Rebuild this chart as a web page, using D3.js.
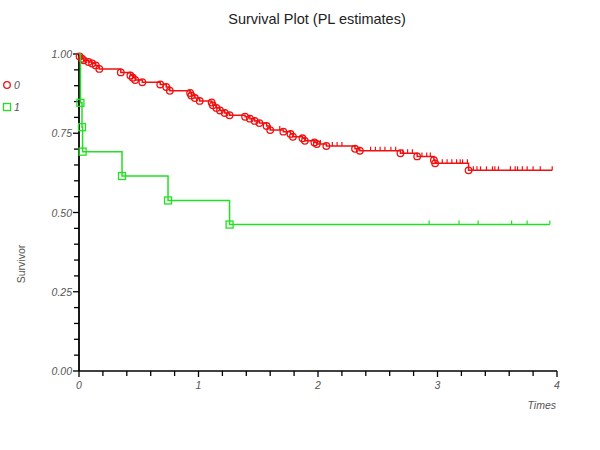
<!DOCTYPE html>
<html>
<head>
<meta charset="utf-8">
<script src="https://cdn.jsdelivr.net/npm/d3@7"></script>
<style>
  html, body { margin: 0; padding: 0; background: #fff; }
  svg { display: block; font-family: "Liberation Sans", Arial, sans-serif; }
</style>
</head>
<body>
<svg id="chart" width="600" height="450"></svg>
<script>
// ---- data ----
const groups = ["0", "1"];
const redEventTimes = [0.005, 0.025, 0.04, 0.08, 0.11, 0.14, 0.17, 0.35, 0.43, 0.45, 0.47, 0.53, 0.68, 0.73, 0.76,
  0.93, 0.94, 0.97, 1.01, 1.11, 1.12, 1.15, 1.18, 1.22, 1.26, 1.39, 1.43, 1.47, 1.51, 1.57, 1.60, 1.71, 1.77,
  1.79, 1.87, 1.89, 1.97, 1.99, 2.07, 2.31, 2.35, 2.69, 2.83, 2.97, 2.98, 3.26];
const redSurvival = [0.992, 0.985, 0.980, 0.975, 0.970, 0.964, 0.953, 0.942, 0.932, 0.925, 0.918, 0.911, 0.904, 0.896, 0.884,
  0.877, 0.869, 0.861, 0.852, 0.847, 0.838, 0.830, 0.822, 0.814, 0.807, 0.802, 0.796, 0.789, 0.782, 0.773, 0.760, 0.755, 0.748,
  0.739, 0.734, 0.726, 0.721, 0.716, 0.710, 0.701, 0.695, 0.687, 0.677, 0.665, 0.655, 0.633];
const redCensorTimes = [1.68, 2.02, 2.12, 2.16, 2.20, 2.44, 2.48, 2.52, 2.56, 2.61, 2.65, 2.71, 2.75, 2.79, 2.87, 2.91, 2.94,
  3.04, 3.08, 3.12, 3.16, 3.19, 3.21, 3.25, 3.30, 3.33, 3.36, 3.41, 3.46, 3.48, 3.51, 3.61, 3.65, 3.67, 3.71, 3.75,
  3.80, 3.86, 3.96];
const greenEventTimes = [0.012, 0.025, 0.03, 0.36, 0.745, 1.26];
const greenSurvival = [0.846, 0.769, 0.692, 0.615, 0.538, 0.462];
const greenCensorTimes = [2.93, 3.18, 3.34, 3.62, 3.75, 3.94];
const xTickValues = [0, 1, 2, 3, 4];
const yTickValues = [0, 0.25, 0.5, 0.75, 1];

// ---- layout ----
const svg = d3.select("#chart");
const x = d3.scaleLinear().domain([0, 4]).range([79, 557]);
const y = d3.scaleLinear().domain([0, 1]).range([371, 54]);
const labelColor = "#555";

// title
svg.append("text").attr("x", 317).attr("y", 24).attr("text-anchor", "middle")
  .attr("font-size", 14.5).attr("fill", "#222").text("Survival Plot (PL estimates)");

// axes
const xMinor = d3.range(0, 4.0001, 0.2);
const yMinor = d3.range(0, 1.0001, 0.05);
const ax = svg.append("g").attr("class", "axes");
ax.selectAll("line.xt").data(xMinor).join("line")
  .attr("x1", d => x(d)).attr("x2", d => x(d)).attr("y1", y(0)).attr("y2", d => y(0) + (Math.abs(d - Math.round(d)) < 1e-6 ? 6 : 5))
  .attr("stroke", "#000").attr("stroke-width", 1.3);
ax.selectAll("line.yt").data(yMinor).join("line")
  .attr("y1", d => y(d)).attr("y2", d => y(d)).attr("x1", x(0)).attr("x2", d => x(0) - (Math.abs(d * 4 - Math.round(d * 4)) < 1e-6 ? 6 : 5))
  .attr("stroke", "#000").attr("stroke-width", 1.3);
ax.append("line").attr("x1", x(0)).attr("x2", x(4)).attr("y1", y(0)).attr("y2", y(0)).attr("stroke", "#000").attr("stroke-width", 1.6);
ax.append("line").attr("x1", x(0)).attr("x2", x(0)).attr("y1", y(0)).attr("y2", y(1)).attr("stroke", "#000").attr("stroke-width", 1.8);

ax.selectAll("text.xl").data(xTickValues).join("text")
  .attr("x", d => x(d)).attr("y", y(0) + 18).attr("text-anchor", "middle")
  .attr("font-size", 10.5).attr("font-style", "italic").attr("fill", labelColor).text(d => d);
ax.selectAll("text.yl").data(yTickValues).join("text")
  .attr("x", x(0) - 7).attr("y", d => y(d) + 4).attr("text-anchor", "end")
  .attr("font-size", 10.5).attr("font-style", "italic").attr("fill", labelColor).text(d => d.toFixed(2));

svg.append("text").attr("transform", "translate(25,264) rotate(-90)")
  .attr("text-anchor", "middle").attr("font-size", 10.5).attr("fill", labelColor).text("Survivor");
svg.append("text").attr("x", 556).attr("y", 409).attr("text-anchor", "end")
  .attr("font-size", 10.5).attr("font-style", "italic").attr("fill", labelColor).text("Times");

// ---- curves ----
function survAt(times, surv, t) {
  let s = 1;
  for (let i = 0; i < times.length; i++) if (times[i] <= t) s = surv[i];
  return s;
}
function drawGroup(times, surv, censors, color, marker) {
  const g = svg.append("g");
  const endT = d3.max(censors.concat(times));
  const pts = [[0, 1]].concat(times.map((t, i) => [t, surv[i]])).concat([[endT, survAt(times, surv, endT)]]);
  const line = d3.line().x(d => x(d[0])).y(d => y(d[1])).curve(d3.curveStepAfter);
  g.append("path").attr("d", line(pts)).attr("fill", "none").attr("stroke", color).attr("stroke-width", 1.5);
  g.selectAll("line.c").data(censors).join("line")
    .attr("x1", d => x(d)).attr("x2", d => x(d))
    .attr("y1", d => y(survAt(times, surv, d))).attr("y2", d => y(survAt(times, surv, d)) - 4)
    .attr("stroke", color).attr("stroke-width", 1.2);
  if (marker === "circle") {
    g.selectAll("circle").data(times).join("circle")
      .attr("cx", d => x(d)).attr("cy", (d, i) => y(surv[i])).attr("r", 3.3)
      .attr("fill", "none").attr("stroke", color).attr("stroke-width", 1.3);
  } else {
    g.selectAll("rect").data(times).join("rect")
      .attr("x", d => x(d) - 3.5).attr("y", (d, i) => y(surv[i]) - 3.5).attr("width", 7).attr("height", 7)
      .attr("fill", "none").attr("stroke", color).attr("stroke-width", 1.3);
  }
}
const red = "#f01010", green = "#22e022";
drawGroup(redEventTimes, redSurvival, redCensorTimes, red, "circle");
drawGroup(greenEventTimes, greenSurvival, greenCensorTimes, green, "square");

// ---- legend ----
const leg = svg.append("g");
leg.append("circle").attr("cx", 7).attr("cy", 85).attr("r", 3.3).attr("fill", "none").attr("stroke", red).attr("stroke-width", 1.3);
leg.append("text").attr("x", 14).attr("y", 89).attr("font-size", 10.5).attr("font-style", "italic").attr("fill", labelColor).text(groups[0]);
leg.append("rect").attr("x", 3.5).attr("y", 103.5).attr("width", 7).attr("height", 7).attr("fill", "none").attr("stroke", green).attr("stroke-width", 1.3);
leg.append("text").attr("x", 14).attr("y", 111).attr("font-size", 10.5).attr("font-style", "italic").attr("fill", labelColor).text(groups[1]);
</script>
</body>
</html>
